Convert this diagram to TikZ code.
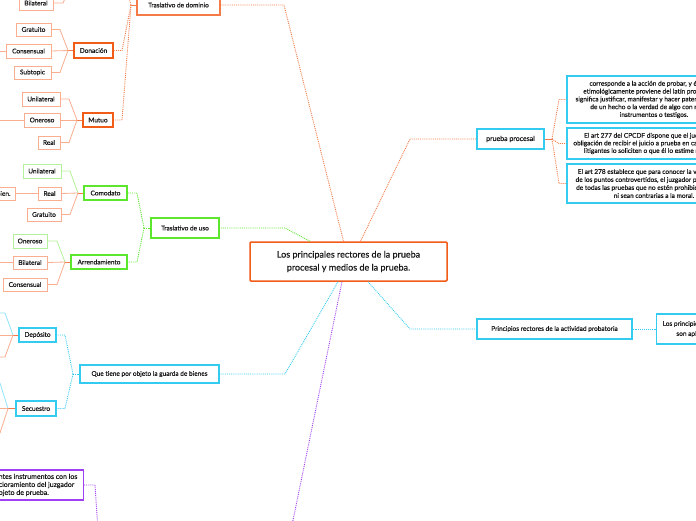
\documentclass[tikz,border=0pt]{standalone}
\usepackage{fontspec}
\setmainfont{Lato}[FakeBold=0.35]
\usetikzlibrary{shadows}
\definecolor{orD}{HTML}{F25C19}
\definecolor{orM}{HTML}{F47A48}
\definecolor{orL}{HTML}{F9AE90}
\definecolor{grD}{HTML}{5CE62E}
\definecolor{grL}{HTML}{B3F29A}
\definecolor{cyD}{HTML}{33CCF0}
\definecolor{cyL}{HTML}{90E4F8}
\definecolor{puD}{HTML}{A040F5}
\begin{document}
\begin{tikzpicture}[x=1pt,y=-1pt,
 box/.style={draw, fill=white, inner sep=1pt, align=center, text=black!90, font=\fontsize{6.5}{8}\selectfont},
 sz/.style 2 args={minimum width=#1pt, minimum height=#2pt},
 leaf/.style={box, line width=0.9pt},
 midbox/.style={box, line width=1.4pt},
 topbox/.style={box, line width=1.3pt, drop shadow={shadow xshift=1pt, shadow yshift=-1.2pt, opacity=0.35, fill=black!60}},
 dotc/.style={densely dotted, line width=0.9pt},
 solc/.style={line width=0.8pt},
]
\fill[white] (0,0) rectangle (696,520);
\useasboundingbox (0,0) rectangle (696,520);
\clip (0,0) rectangle (696,520);

% ---------- central ----------
\node[box, draw=orD, line width=1.5pt, rounded corners=1pt, sz={197}{39}, font=\fontsize{9}{13}\selectfont] (c) at (348.5,261.5) {Los principales rectores de la prueba\\ procesal y medios de la prueba.};

% ---------- right side ----------
\node[topbox, draw=cyD, sz={67}{20}, font=\fontsize{7}{8}\selectfont] (pp) at (510.5,139) {prueba procesal};
\node[topbox, draw=cyD, sz={174}{47}, font=\fontsize{6.5}{7.8}\selectfont] (b1) at (654,99.5) {corresponde a la acción de probar, y éste a su\\ etimológicamente proviene del latín probatio, que\\ significa justificar, manifestar y hacer patente la certeza\\ de un hecho o la verdad de algo con razones,\\ instrumentos o testigos.};
\node[topbox, draw=cyD, sz={174}{31}, font=\fontsize{6.5}{7.6}\selectfont] (b2) at (654,143.5) {El art 277 del CPCDF dispone que el juez tiene la\\ obligación de recibir el juicio a prueba en caso de que los\\ litigantes lo soliciten o que él lo estime necesario.};
\node[topbox, draw=cyD, sz={174}{39}, font=\fontsize{6.5}{8}\selectfont] (b3) at (654,183.5) {El art 278 establece que para conocer la verdad sobre\\ de los puntos controvertidos, el juzgador puede valerse\\ de todas las pruebas que no estén prohibidas por la ley\\ ni sean contrarias a la moral.};
\node[topbox, draw=cyD, sz={155}{20}] (pr) at (554.5,329) {Principios rectores de la actividad probatoria};
\node[topbox, draw=cyD, minimum height=30pt, inner xsep=6pt, anchor=west, font=\fontsize{6.5}{10}\selectfont] (lp) at (656,329) {Los principios de la actividad probatoria\\ son aplicables a todo proceso.};

\coordinate (jpp) at (552,139);
\draw[solc, orM] (pp.east) -- (jpp);
\draw[dotc, orM] (jpp) -- (559,99.5) -- (b1.west);
\draw[dotc, orM] (jpp) -- (559,143.5) -- (b2.west);
\draw[dotc, orM] (jpp) -- (559,183.5) -- (b3.west);
\draw[dotc, orM] ([xshift=12pt]c.north) -- (410,139) -- (pp.west);
\draw[dotc, cyD] ([xshift=19.5pt]c.south) -- (410,329) -- (pr.west);
\draw[dotc, cyD] (pr.east) -- (lp.west);

% ---------- Traslativo de dominio ----------
\node[topbox, draw=orM, sz={83}{20}] (tdom) at (178.5,5) {Traslativo de dominio};
\draw[dotc, orM] ([xshift=-5pt]c.north) -- (284,5) -- (tdom.east);
\coordinate (jtd) at (131,5);
\draw[solc, orM] (tdom.west) -- (jtd);
\node[midbox, draw=orD, sz={39}{15}] (don) at (93.5,50.5) {Donación};
\node[midbox, draw=orD, sz={30}{14}] (mut) at (98,120) {Mutuo};
\draw[dotc, orM] (jtd) -- (122,50.5) -- (don.east);
\draw[dotc, orM] (jtd) -- (122,120) -- (mut.east);
\coordinate (offtd) at (126,-12);
\draw[dotc, orM] (jtd) -- (offtd);

\node[leaf, draw=orL, sz={34}{14}] (bil1) at (36,3) {Bilateral};
\coordinate (offb) at (70,-12);
\draw[solc, orL] (bil1.east) -- (63,3) -- (offb);

\node[leaf, draw=orL, sz={35}{13}] (gra1) at (33.5,29.5) {Gratuito};
\node[leaf, draw=orL, sz={45}{14}] (con1) at (28.5,51) {Consensual};
\node[leaf, draw=orL, sz={37}{13}] (sub1) at (32.5,72.5) {Subtopic};
\coordinate (jdon) at (68,50.5);
\draw[solc, orM] (don.west) -- (jdon);
\draw[solc, orL] (jdon) -- (60,29.5) -- (gra1.east);
\draw[solc, orL] (jdon) -- (con1.east);
\draw[solc, orL] (jdon) -- (60,72.5) -- (sub1.east);
\coordinate (offc1) at (-5,51);
\draw[solc, orL] (con1.west) -- (offc1);

\node[leaf, draw=orL, sz={38}{14}] (uni1) at (41,99) {Unilateral};
\node[leaf, draw=orL, sz={36}{14}] (one1) at (42,120) {Oneroso};
\node[leaf, draw=orL, sz={22}{13}] (rea1) at (49,142.5) {Real};
\coordinate (jmut) at (77,120);
\draw[solc, orM] (mut.west) -- (jmut);
\draw[solc, orL] (jmut) -- (69,99) -- (uni1.east);
\draw[solc, orL] (jmut) -- (one1.east);
\draw[solc, orL] (jmut) -- (69,142.5) -- (rea1.east);
\coordinate (offo1) at (-5,120);
\draw[solc, orL] (one1.west) -- (offo1);

% ---------- Traslativo de uso ----------
\node[topbox, draw=grD, sz={68}{20}] (tuso) at (185,228) {Traslativo de uso};
\draw[dotc, grD] ([xshift=-38.5pt]c.north) -- (285,228) -- (tuso.east);
\node[midbox, draw=grD, sz={43}{14}] (com) at (105.5,193) {Comodato};
\node[midbox, draw=grD, sz={56}{14}] (arr) at (99,262) {Arrendamiento};
\coordinate (jtu) at (144,228);
\draw[dotc, grD] (tuso.west) -- (jtu);
\draw[dotc, grD] (jtu) -- (137,193) -- (com.east);
\draw[dotc, grD] (jtu) -- (137,262) -- (arr.east);

\node[leaf, draw=grL, sz={38}{14}] (uni2) at (42,171) {Unilateral};
\node[leaf, draw=orL, sz={23}{13}] (rea2) at (49.5,193.5) {Real};
\node[leaf, draw=orL, sz={34}{13}] (gra2) at (44,214.5) {Gratuito};
\node[leaf, draw=orL, minimum height=13pt, inner xsep=5pt, anchor=east] (bien) at (16,193.5) {Uso del bien.};
\coordinate (jcom) at (78,193);
\draw[solc, orM] (com.west) -- (jcom);
\draw[solc, grL] (jcom) -- (70,171) -- (uni2.east);
\draw[solc, orL] (jcom) -- (rea2.east);
\draw[solc, orL] (jcom) -- (70,214.5) -- (gra2.east);
\draw[solc, orL] (rea2.west) -- (bien.east);

\node[leaf, draw=grL, sz={34}{14}] (one2) at (30,241) {Oneroso};
\node[leaf, draw=orL, sz={34}{13}] (bil2) at (30,262.5) {Bilateral};
\node[leaf, draw=orL, sz={44}{13}] (con2) at (25,284.5) {Consensual};
\coordinate (jarr) at (65,262);
\draw[solc, orM] (arr.west) -- (jarr);
\draw[solc, grL] (jarr) -- (57,241) -- (one2.east);
\draw[solc, orL] (jarr) -- (bil2.east);
\draw[solc, orL] (jarr) -- (57,284.5) -- (con2.east);
\coordinate (offb2) at (-5,262.5);
\draw[solc, orL] (bil2.west) -- (offb2);

% ---------- Que tiene por objeto ----------
\node[topbox, draw=cyD, sz={139}{18}] (qt) at (149.5,374) {Que tiene por objeto la guarda de bienes};
\draw[dotc, cyD] ([xshift=-10.5pt]c.south) -- (285,374) -- (qt.east);
\node[midbox, draw=cyD, line width=1.2pt, sz={37}{14}] (dep) at (37.5,335) {Depósito};
\node[midbox, draw=cyD, line width=1.2pt, sz={40}{15}] (sec) at (36,408.5) {Secuestro};
\coordinate (jqt) at (73,374);
\draw[dotc, cyD] (qt.west) -- (jqt);
\draw[dotc, cyD] (jqt) -- (65,335) -- (dep.east);
\draw[dotc, cyD] (jqt) -- (65,408.5) -- (sec.east);

\coordinate (jdep) at (13,335);
\coordinate (od1) at (-5,313);
\coordinate (od2) at (-5,335);
\coordinate (od3) at (-5,357);
\draw[solc, orM] (dep.west) -- (jdep);
\draw[solc, cyL] (jdep) -- (5,313) -- (od1);
\draw[solc, orL] (jdep) -- (od2);
\draw[solc, orL] (jdep) -- (5,357) -- (od3);

\coordinate (jsec) at (8,408.5);
\coordinate (os1) at (-5,383);
\coordinate (os2) at (-5,408.5);
\coordinate (os3) at (-5,433);
\draw[solc, orM] (sec.west) -- (jsec);
\draw[solc, cyL] (jsec) -- (0,383) -- (os1);
\draw[solc, orL] (jsec) -- (os2);
\draw[solc, orL] (jsec) -- (0,433) -- (os3);

% ---------- purple ----------
\node[box, draw=puD, line width=1.3pt, minimum height=30pt, inner xsep=6pt, anchor=east, align=center, font=\fontsize{7}{8}\selectfont] (pb) at (84,485) {Son aquellos diferentes instrumentos con los\\ que se logra el cercioramiento del juzgador\\ sobre el objeto de prueba.};
\coordinate (offp1) at (291,530);
\coordinate (offp2) at (98,530);
\draw[dotc, puD] ([xshift=-6.5pt]c.south) -- (offp1);
\draw[dotc, puD] (pb.east) -- (95,485) -- (offp2);
\end{tikzpicture}
\end{document}
